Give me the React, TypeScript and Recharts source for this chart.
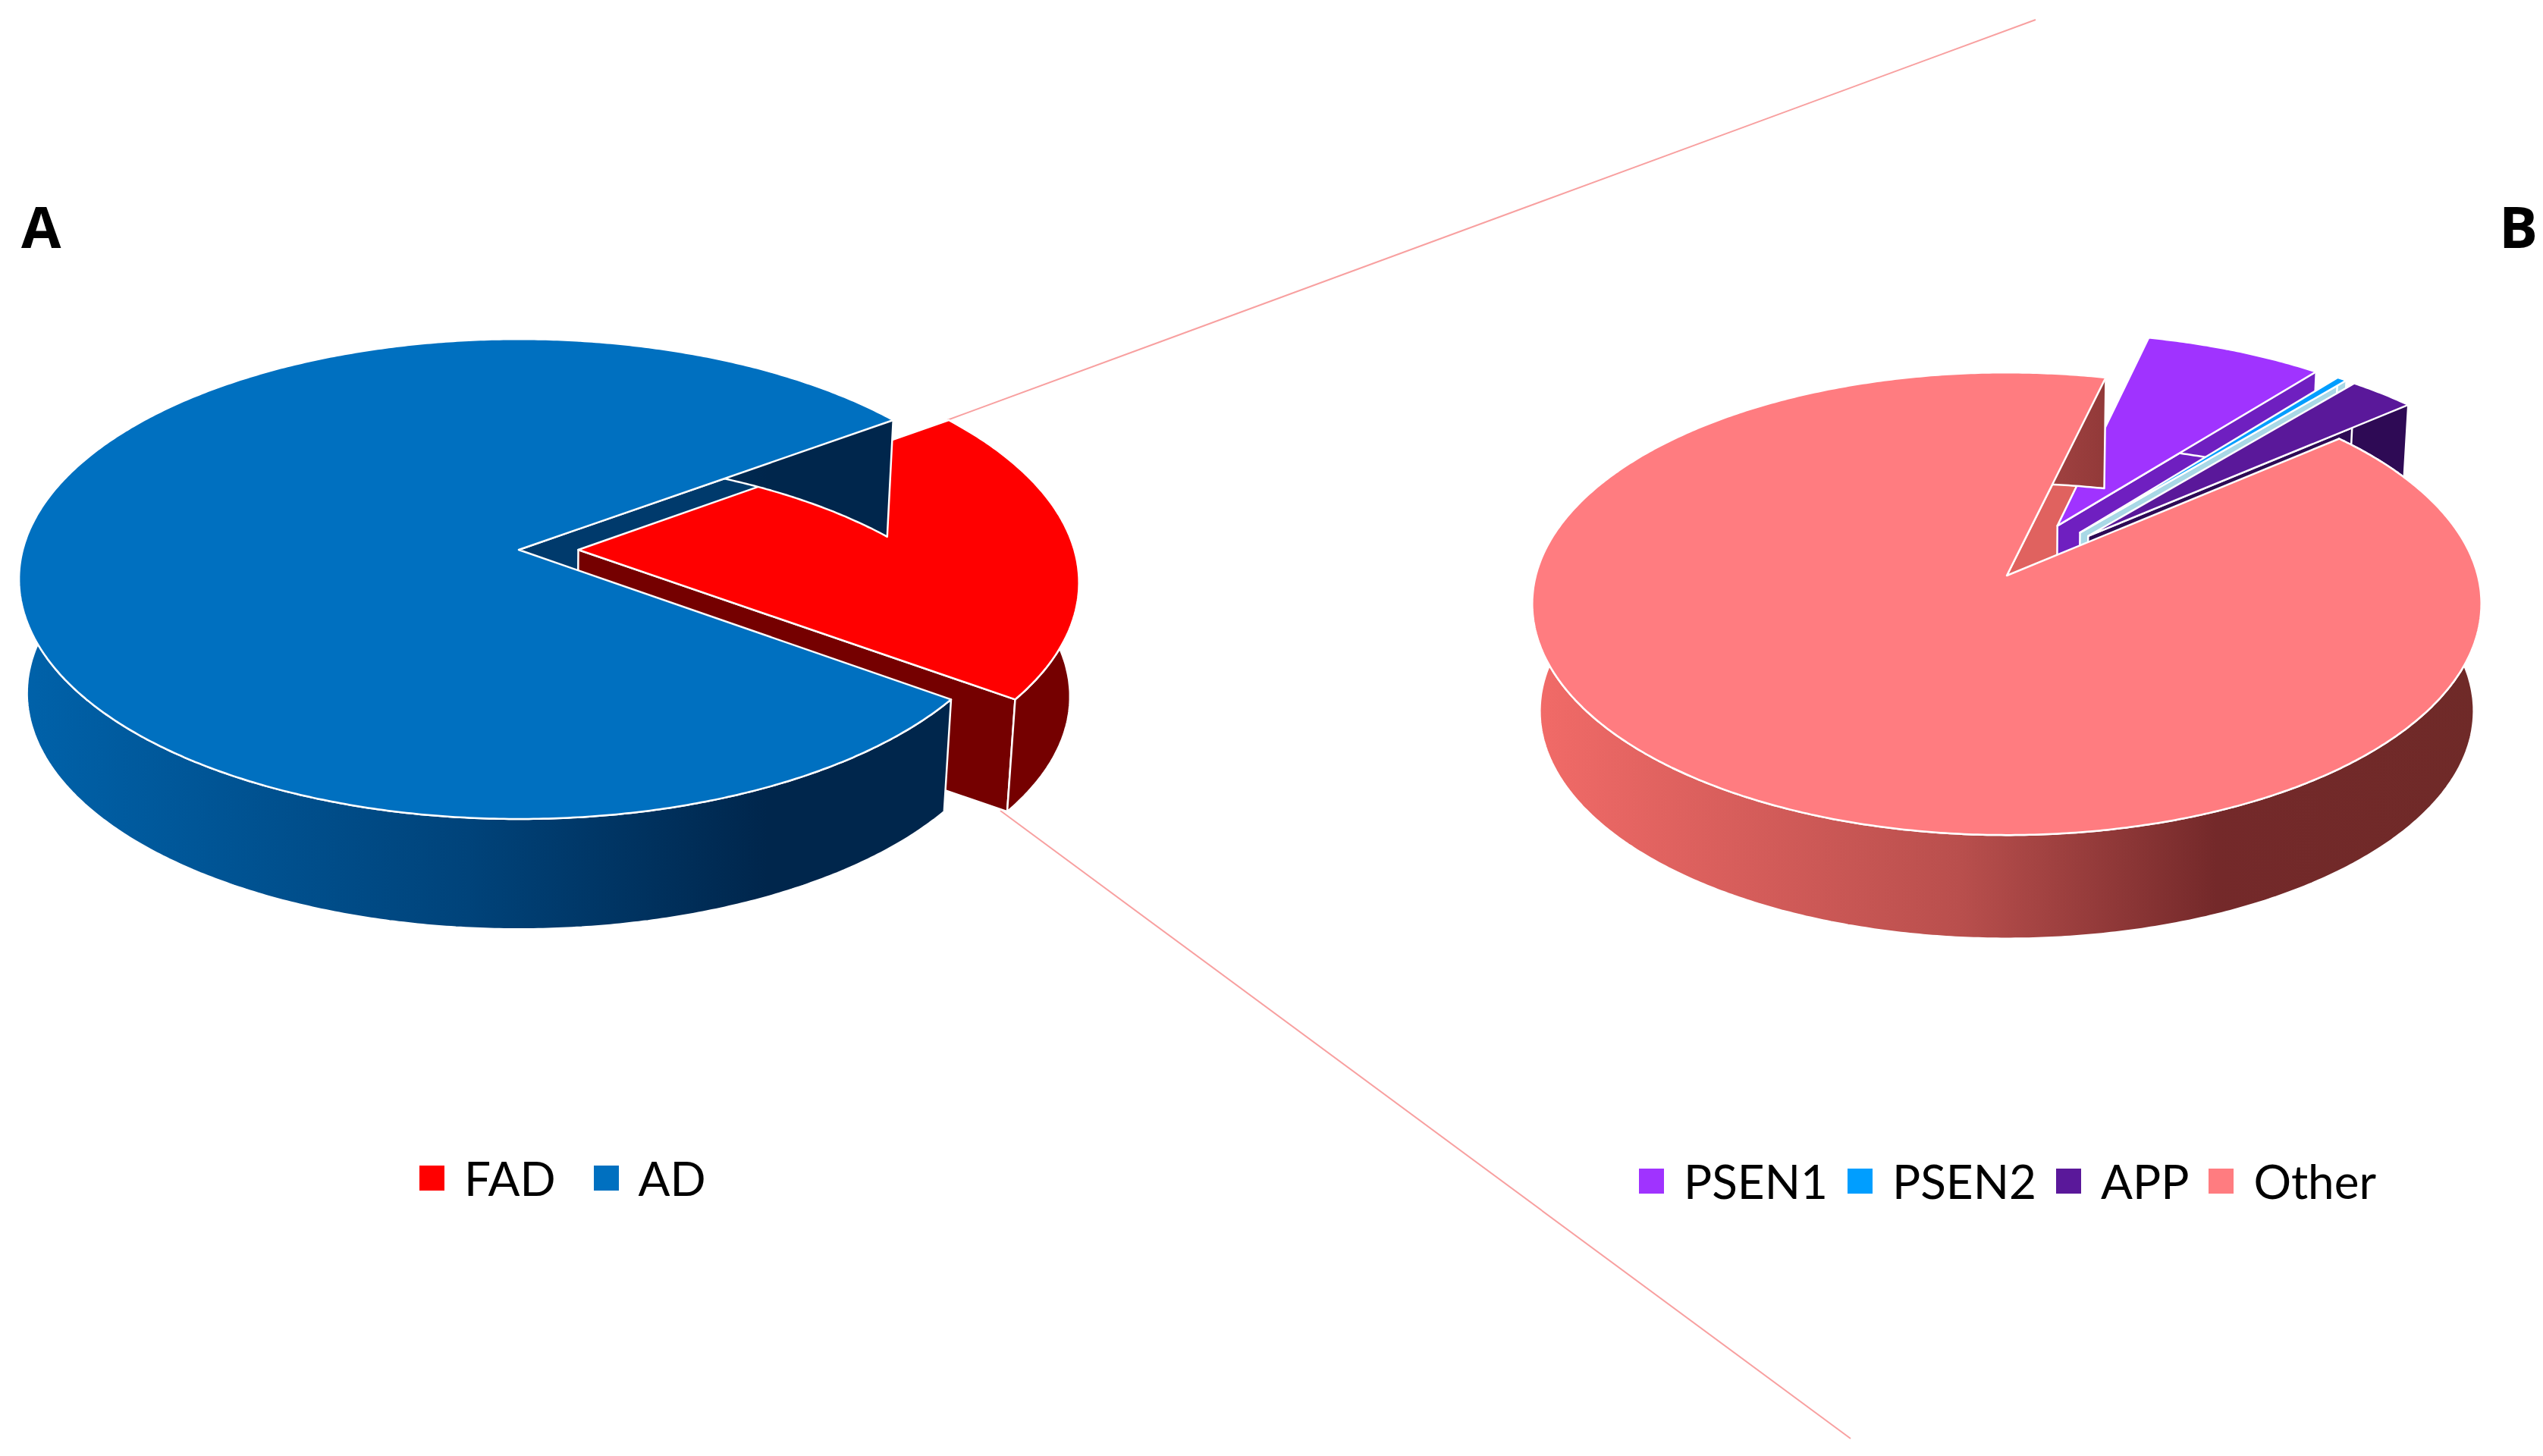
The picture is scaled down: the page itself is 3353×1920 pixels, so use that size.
import React from "react";
import { Legend, Pie, PieChart } from "recharts";

const WIDTH = 3353;
const HEIGHT = 1920;

const onsetNames = ["FAD", "AD"];
const onsetValues = [20, 80];
const onsetColors = ["#ff0000", "#0070c0"];
const onsetSideColors = ["#750000", "#003a6c"];

const geneNames = ["PSEN1", "PSEN2", "APP", "Other"];
const geneValues = [7, 0.4, 2.6, 90];
const geneColors = ["#a033ff", "#009eff", "#5a189a", "#ff7c80"];
const geneSideColors = ["#6f1fc0", "#a9d8e6", "#2e0a55", "#e0625f"];

const onsetData = onsetNames.map((name, i) => ({ name, value: onsetValues[i], fill: onsetColors[i] }));
const geneData = geneNames.map((name, i) => ({ name, value: geneValues[i], fill: geneColors[i] }));

// camera distance in pie radii, and how much the lower rim shrinks
const CAMERA = 8.2;
const LOWER_SCALE = 0.984;

type Geo = {
  tilt: number;
  depth: number;
  sideColors: string[];
  explode: number[];
  wallFill: string;
};

const onsetGeo: Geo = {
  tilt: 0.4766,
  depth: 151,
  sideColors: onsetSideColors,
  explode: [0.12, 0],
  wallFill: "url(#adWall)",
};

const geneGeo: Geo = {
  tilt: 0.4838,
  depth: 142,
  sideColors: geneSideColors,
  explode: [0.25, 0.25, 0.25, 0],
  wallFill: "url(#otherWall)",
};

const RAD = Math.PI / 180;

function project(p: any, geo: Geo, x: number, y: number, lower: boolean) {
  const persp = CAMERA / (CAMERA - y);
  const s = lower ? LOWER_SCALE : 1;
  return [
    p.cx + p.outerRadius * x * persp * s,
    p.cy + p.outerRadius * geo.tilt * y * persp * s + (lower ? geo.depth : 0),
  ];
}

function toPath(points: number[][]) {
  return points.map((q, i) => `${i ? "L" : "M"}${q[0].toFixed(1)} ${q[1].toFixed(1)}`).join("") + "Z";
}

function makeSlice(p: any, geo: Geo) {
  const mid = (p.startAngle + p.endAngle) / 2;
  const amount = geo.explode[p.index] ?? 0;
  const ox = amount * Math.cos(mid * RAD);
  const oy = -amount * Math.sin(mid * RAD);
  const rim = (angle: number, lower: boolean) =>
    project(p, geo, ox + Math.cos(angle * RAD), oy - Math.sin(angle * RAD), lower);
  const apex = (lower: boolean) => project(p, geo, ox, oy, lower);
  const steps = Math.max(2, Math.ceil(Math.abs(p.endAngle - p.startAngle) * 2));
  const angles = Array.from({ length: steps + 1 }, (_, i) => p.startAngle + ((p.endAngle - p.startAngle) * i) / steps);
  const top = toPath([apex(false), ...angles.map((a) => rim(a, false))]);
  const wall = toPath([
    ...angles.map((a) => rim(a, false)),
    ...angles.slice().reverse().map((a) => rim(a, true)),
  ]);
  const face = (angle: number) => toPath([apex(false), rim(angle, false), rim(angle, true), apex(true)]);
  const cutFace = Math.cos(p.endAngle * RAD) > 0 ? face(p.endAngle) : face(p.startAngle);
  return { top, wall, cutFace };
}

const edge = { stroke: "#ffffff", strokeWidth: 2.5, strokeLinejoin: "round" as const };

// first pass: only the cut face of the big slice, it sits behind the exploded slices
function backPass(geo: Geo) {
  return (p: any) => {
    if (p.percent < 0.5) return <g />;
    const { cutFace } = makeSlice(p, geo);
    return <path d={cutFace} fill={geo.sideColors[p.index]} {...edge} />;
  };
}

function frontPass(geo: Geo) {
  return (p: any) => {
    const big = p.percent >= 0.5;
    const { top, wall, cutFace } = makeSlice(p, geo);
    const side = geo.sideColors[p.index];
    return (
      <g>
        {!big && <path d={cutFace} fill={side} {...edge} />}
        <path d={wall} fill={big ? geo.wallFill : side} {...edge} />
        <path d={top} fill={p.fill} {...edge} />
      </g>
    );
  };
}

function legendContent(gap: number, swatch: number) {
  return ({ payload }: any) => {
    const seen = new Set();
    const items = (payload ?? []).filter((e: any) => {
      if (seen.has(e.value)) return false;
      seen.add(e.value);
      return true;
    });
    return (
      <div style={{ display: "flex", alignItems: "center", whiteSpace: "nowrap", fontFamily: "Lato", fontSize: 62, color: "#000" }}>
        {items.map((e: any) => (
          <div key={e.value} style={{ display: "flex", alignItems: "center", marginRight: gap }}>
            <span style={{ width: swatch, height: swatch, background: e.color, marginRight: 26, display: "inline-block" }} />
            <span>{e.value}</span>
          </div>
        ))}
      </div>
    );
  };
}

const layer: React.CSSProperties = { position: "absolute", left: 0, top: 0 };
const letter = { fontFamily: "Open Sans", fontWeight: 700, fontSize: 76, fill: "#000" };

export default function App() {
  return (
    <div style={{ position: "fixed", left: 0, top: 0, width: WIDTH, height: HEIGHT, background: "#fff" }}>
      <div style={layer}>
        <PieChart width={WIDTH} height={HEIGHT} margin={{ top: 0, right: 0, bottom: 0, left: 0 }}>
          <defs>
            <linearGradient id="adWall" gradientUnits="userSpaceOnUse" x1="25" x2="1340" y1="0" y2="0">
              <stop offset="0" stopColor="#0062aa" />
              <stop offset="0.45" stopColor="#00437a" />
              <stop offset="0.75" stopColor="#00264c" />
              <stop offset="1" stopColor="#00264c" />
            </linearGradient>
          </defs>
          <line x1={1249} y1={554} x2={2684} y2={26} stroke="#f8a0a0" strokeWidth={2} />
          <line x1={1319} y1={1069} x2={2440} y2={1897} stroke="#f8a0a0" strokeWidth={2} />
          <Pie
            data={onsetData}
            dataKey="value"
            nameKey="name"
            cx={684}
            cy={725}
            outerRadius={654}
            startAngle={36}
            endAngle={-324}
            stroke="none"
            legendType="none"
            shape={backPass(onsetGeo)}
            inactiveShape={backPass(onsetGeo)}
            isAnimationActive={false}
          />
          <Pie
            data={onsetData}
            dataKey="value"
            nameKey="name"
            cx={684}
            cy={725}
            outerRadius={654}
            startAngle={36}
            endAngle={-324}
            stroke="none"
            shape={frontPass(onsetGeo)}
            inactiveShape={frontPass(onsetGeo)}
            isAnimationActive={false}
          />
          <Legend
            itemSorter={null}
            content={legendContent(50, 33)}
            wrapperStyle={{ position: "absolute", left: 553, top: 1516, width: "auto" }}
          />
          <text x={28} y={327} {...letter}>A</text>
        </PieChart>
      </div>
      <div style={layer}>
        <PieChart width={WIDTH} height={HEIGHT} margin={{ top: 0, right: 0, bottom: 0, left: 0 }}>
          <defs>
            <linearGradient id="otherWall" gradientUnits="userSpaceOnUse" x1="2020" x2="3272" y1="0" y2="0">
              <stop offset="0" stopColor="#f26b68" />
              <stop offset="0.45" stopColor="#b94f4d" />
              <stop offset="0.72" stopColor="#74292a" />
              <stop offset="1" stopColor="#6f2a28" />
            </linearGradient>
          </defs>
          <Pie
            data={geneData}
            dataKey="value"
            nameKey="name"
            cx={2646}
            cy={759}
            outerRadius={621}
            startAngle={76.4}
            endAngle={-283.6}
            stroke="none"
            legendType="none"
            shape={backPass(geneGeo)}
            inactiveShape={backPass(geneGeo)}
            isAnimationActive={false}
          />
          <Pie
            data={geneData}
            dataKey="value"
            nameKey="name"
            cx={2646}
            cy={759}
            outerRadius={621}
            startAngle={76.4}
            endAngle={-283.6}
            stroke="none"
            shape={frontPass(geneGeo)}
            inactiveShape={frontPass(geneGeo)}
            isAnimationActive={false}
          />
          <Legend
            itemSorter={null}
            content={legendContent(26, 33)}
            wrapperStyle={{ position: "absolute", left: 2161, top: 1520, width: "auto" }}
          />
          <text x={3295} y={327} {...letter}>B</text>
        </PieChart>
      </div>
    </div>
  );
}
